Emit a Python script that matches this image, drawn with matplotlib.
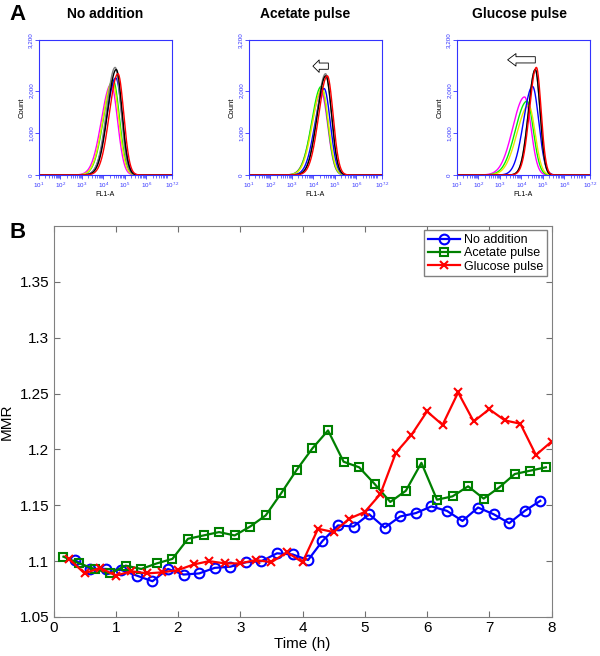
import numpy as np
import matplotlib
matplotlib.use('Agg')
import matplotlib.pyplot as plt
from matplotlib.ticker import LogLocator, NullFormatter, FixedLocator

plt.rcParams['font.family'] = ['Liberation Sans', 'DejaVu Sans']
plt.rcParams['mathtext.fontset'] = 'custom'
plt.rcParams['mathtext.rm'] = 'Liberation Sans'

# ---- panel B data (MMR vs time) ----
t_none = [0.34, 0.59, 0.84, 1.09, 1.34, 1.59, 1.84, 2.09, 2.34, 2.59, 2.84, 3.09, 3.34, 3.59,
          3.84, 4.09, 4.32, 4.57, 4.82, 5.07, 5.32, 5.57, 5.82, 6.07, 6.32, 6.57, 6.82, 7.07,
          7.32, 7.57, 7.82]
mmr_none = [1.101, 1.093, 1.093, 1.092, 1.087, 1.082, 1.093, 1.088, 1.089, 1.094, 1.095, 1.099,
            1.100, 1.107, 1.106, 1.101, 1.118, 1.132, 1.131, 1.142, 1.130, 1.140, 1.143, 1.149,
            1.145, 1.136, 1.148, 1.142, 1.134, 1.145, 1.154]

t_acetate = [0.16, 0.41, 0.66, 0.91, 1.16, 1.41, 1.66, 1.91, 2.16, 2.41, 2.66, 2.91, 3.16, 3.41,
             3.66, 3.91, 4.16, 4.41, 4.66, 4.91, 5.16, 5.41, 5.66, 5.91, 6.16, 6.41, 6.66, 6.91,
             7.16, 7.41, 7.66, 7.91]
mmr_acetate = [1.104, 1.098, 1.093, 1.089, 1.096, 1.093, 1.098, 1.102, 1.120, 1.123, 1.126, 1.123,
               1.131, 1.141, 1.161, 1.182, 1.201, 1.217, 1.189, 1.184, 1.169, 1.153, 1.163, 1.188,
               1.155, 1.158, 1.167, 1.156, 1.166, 1.178, 1.181, 1.184]

t_glucose = [0.25, 0.5, 0.75, 1.0, 1.25, 1.5, 1.75, 2.0, 2.25, 2.5, 2.75, 3.0, 3.25, 3.5, 3.75, 4.0,
             4.25, 4.5, 4.75, 5.0, 5.25, 5.5, 5.75, 6.0, 6.25, 6.5, 6.75, 7.0, 7.25, 7.5, 7.75, 8.0]
mmr_glucose = [1.102, 1.089, 1.094, 1.087, 1.091, 1.089, 1.090, 1.092, 1.097, 1.100, 1.098, 1.098,
               1.101, 1.099, 1.108, 1.099, 1.129, 1.126, 1.138, 1.144, 1.160, 1.197, 1.213, 1.234,
               1.222, 1.251, 1.225, 1.236, 1.226, 1.223, 1.195, 1.207]

# ---- panel A data (flow histograms: peak log10 FL1-A, peak count, left/right spread) ----
hist_titles = ['No addition', 'Acetate pulse', 'Glucose pulse']
hist_colors = ['#ff00ff', '#00ee00', '#e8e800', '#0000ff', '#808080', '#000000', '#ff0000']
peak_no = [4.36, 4.45, 4.42, 4.58, 4.55, 4.60, 4.68]
height_no = [2150, 2250, 2200, 2300, 2550, 2500, 2400]
peak_ac = [4.37, 4.37, 4.40, 4.50, 4.57, 4.58, 4.65]
height_ac = [1950, 2100, 2050, 2050, 2400, 2350, 2350]
peak_gl = [4.15, 4.26, 4.34, 4.52, 4.65, 4.65, 4.70]
height_gl = [1850, 1750, 1650, 2100, 2500, 2500, 2550]
spread_left = [0.45, 0.44, 0.44, 0.42, 0.40, 0.40, 0.40]
spread_right = [0.30, 0.30, 0.30, 0.29, 0.27, 0.27, 0.27]
arrow_ac = (4.70, 3.98, 2580)
arrow_gl = (4.65, 3.36, 2730)

fig = plt.figure(figsize=(6.0, 6.56), dpi=100)

# ---------- panel A ----------
hist_peaks = [peak_no, peak_ac, peak_gl]
hist_heights = [height_no, height_ac, height_gl]
lefts = [39, 249, 457]
title_x = [105, 305, 520]
xs = np.linspace(1, 7.2, 600)
for i in range(3):
    ax = fig.add_axes([lefts[i] / 600, 1 - 175 / 656, 133 / 600, 135 / 656])
    for c, mu, h, sl, sr in zip(hist_colors, hist_peaks[i], hist_heights[i], spread_left, spread_right):
        if i == 2 and c in ('#ff00ff', '#00ee00', '#e8e800'):
            sl = sl + 0.1
        if i == 2 and c in ('#000000', '#ff0000', '#808080'):
            sl, sr = sl - 0.08, sr - 0.05
        s = np.where(xs < mu, sl, sr)
        ax.plot(10 ** xs, h * np.exp(-0.5 * ((xs - mu) / s) ** 2), color=c, lw=1.0)
    ax.set_xscale('log')
    ax.set_xlim(10, 10 ** 7.2)
    ax.set_ylim(0, 3200)
    for sp in ax.spines.values():
        sp.set_color('#3333ff')
    ax.xaxis.set_major_locator(FixedLocator([10, 100, 1e3, 1e4, 1e5, 1e6, 10 ** 7.2]))
    ax.set_xticklabels(['$10^1$', '$10^2$', '$10^3$', '$10^4$', '$10^5$', '$10^6$', '$10^{7.2}$'])
    ax.xaxis.set_minor_locator(LogLocator(base=10, subs=np.arange(2, 10), numticks=20))
    ax.xaxis.set_minor_formatter(NullFormatter())
    ax.set_yticks([0, 1000, 2000, 3200])
    ax.set_yticklabels(['0', '1,000', '2,000', '3,200'], rotation=90, va='center')
    ax.tick_params(colors='#3333ff', labelsize=4.5, length=3, width=0.6, pad=1)
    ax.tick_params(which='minor', colors='#3333ff', length=2, width=0.5)
    ax.set_xlabel('FL1-A', fontsize=5, labelpad=1)
    ax.set_ylabel('Count', fontsize=5.5, labelpad=2)
    fig.text(title_x[i] / 600, 1 - 14 / 656, hist_titles[i], ha='center', va='center',
             fontsize=10, fontweight='bold')
    if i > 0:
        x0, x1, yy = arrow_ac if i == 1 else arrow_gl
        hl = 0.45 if i == 1 else 0.6
        ax.annotate('', xy=(10 ** x1, yy), xytext=(10 ** x0, yy),
                    arrowprops=dict(arrowstyle=f'simple,head_length={hl},head_width=0.9,tail_width=0.45',
                                    fc='white', ec='black', lw=0.6, shrinkA=0, shrinkB=0))

fig.text(18 / 600, 1 - 14 / 656, 'A', fontsize=16, fontweight='bold', ha='center', va='center')
fig.text(18 / 600, 1 - 232 / 656, 'B', fontsize=16, fontweight='bold', ha='center', va='center')

# ---------- panel B ----------
ax = fig.add_axes([53.5 / 600, 1 - 617 / 656, 498 / 600, 391 / 656])
ax.plot(t_none, mmr_none, '-o', color='#0000ff', lw=1.6, ms=7, mfc='none', mew=1.5, label='No addition')
ax.plot(t_acetate, mmr_acetate, '-s', color='#008000', lw=1.6, ms=5.5, mfc='none', mew=1.5, label='Acetate pulse')
ax.plot(t_glucose, mmr_glucose, '-x', color='#ff0000', lw=1.6, ms=6, mew=1.5, label='Glucose pulse')
ax.set_xlim(0, 8)
ax.set_ylim(1.05, 1.4)
ax.set_xticks(range(9))
ax.set_yticks([1.05, 1.1, 1.15, 1.2, 1.25, 1.3, 1.35])
ax.set_yticklabels(['1.05', '1.1', '1.15', '1.2', '1.25', '1.3', '1.35'])
ax.tick_params(direction='in', top=True, right=True, labelsize=11, length=4, color='#707070', pad=3)
for sp in ax.spines.values():
    sp.set_color('#808080')
ax.set_xlabel('Time (h)', fontsize=11, labelpad=1)
ax.set_ylabel('MMR', fontsize=11, labelpad=4)
leg = ax.legend(loc='upper right', fontsize=9, fancybox=False, framealpha=1, edgecolor='#808080',
                borderpad=0.3, labelspacing=0.1, handlelength=2.6, handletextpad=0.3,
                borderaxespad=0.35)
leg.get_frame().set_linewidth(1.0)

fig.savefig('out.png', dpi=100)
